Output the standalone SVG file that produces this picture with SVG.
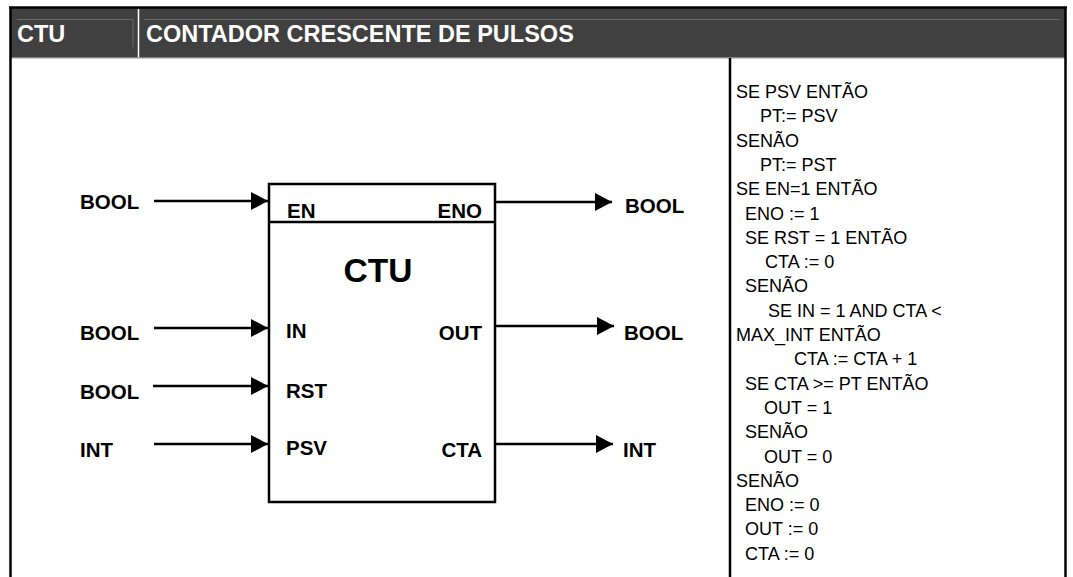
<svg xmlns="http://www.w3.org/2000/svg" width="1073" height="577" viewBox="0 0 1073 577">
<style>
.hd{font-family:"Liberation Sans",Arial,sans-serif;font-weight:bold;font-size:23.5px;fill:#ffffff}
.lb{font-family:"Liberation Sans",Arial,sans-serif;font-weight:bold;font-size:20.5px;fill:#000}
.big{font-family:"Liberation Sans",Arial,sans-serif;font-weight:bold;font-size:33.5px;fill:#000}
.code{font-family:"Liberation Sans",Arial,sans-serif;font-size:18px;fill:#000}
.wire{stroke:#000;stroke-width:2.5;fill:none;marker-end:url(#ah)}
.bdr{stroke:#000;stroke-width:2.5;fill:none}
</style>
<defs>
<marker id="ah" markerUnits="userSpaceOnUse" markerWidth="18" markerHeight="18" refX="17" refY="9" orient="auto">
<path d="M0,0 L17,9 L0,18 z" fill="#000"/>
</marker>
</defs>
<rect width="1073" height="577" fill="#fff"/>
<g id="header">
<rect x="10" y="8" width="1055" height="50" fill="#404040"/>
<line x1="17" y1="19.5" x2="133" y2="19.5" stroke="#6a6a6a" stroke-width="1"/>
<line x1="133" y1="19.5" x2="133" y2="47" stroke="#6a6a6a" stroke-width="1"/>
<line x1="144" y1="19.5" x2="1060" y2="19.5" stroke="#6a6a6a" stroke-width="1"/>
<line x1="138.5" y1="9" x2="138.5" y2="58" stroke="#fff" stroke-width="1.5"/>
<line x1="10" y1="57.8" x2="1065" y2="57.8" stroke="#9a9a9a" stroke-width="1.2"/>
<text class="hd" x="17" y="42">CTU</text>
<text class="hd" x="146" y="42">CONTADOR CRESCENTE DE PULSOS</text>
</g>
<g id="frame">
<line x1="9" y1="7.5" x2="1067" y2="7.5" class="bdr"/>
<line x1="10.5" y1="7" x2="10.5" y2="577" class="bdr"/>
<line x1="1065.5" y1="7" x2="1065.5" y2="577" class="bdr" stroke-width="3"/>
<line x1="730" y1="58" x2="730" y2="577" class="bdr"/>
</g>
<g id="ctu-block">
<rect x="269" y="184" width="226" height="318" class="bdr"/>
<line x1="269" y1="222" x2="495" y2="222" class="bdr"/>
<text class="big" x="378" y="282" text-anchor="middle">CTU</text>
<text class="lb" x="287" y="218">EN</text>
<text class="lb" x="482" y="218" text-anchor="end">ENO</text>
<text class="lb" x="286" y="338">IN</text>
<text class="lb" x="482" y="340" text-anchor="end">OUT</text>
<text class="lb" x="286" y="398">RST</text>
<text class="lb" x="286" y="455">PSV</text>
<text class="lb" x="482" y="457" text-anchor="end">CTA</text>
</g>
<g id="input-labels">
<text class="lb" x="80" y="209">BOOL</text>
<text class="lb" x="80" y="340">BOOL</text>
<text class="lb" x="80" y="399">BOOL</text>
<text class="lb" x="80" y="457">INT</text>
</g>
<g id="output-labels">
<text class="lb" x="625" y="213">BOOL</text>
<text class="lb" x="624" y="340">BOOL</text>
<text class="lb" x="623" y="457">INT</text>
</g>
<g id="connectors">
<line x1="154" y1="201" x2="268" y2="201" class="wire"/>
<line x1="154" y1="328" x2="268" y2="328" class="wire"/>
<line x1="153" y1="386" x2="268" y2="386" class="wire"/>
<line x1="154" y1="444" x2="268" y2="444" class="wire"/>
<line x1="496" y1="202" x2="612" y2="202" class="wire"/>
<line x1="496" y1="326" x2="614" y2="326" class="wire"/>
<line x1="496" y1="444" x2="613" y2="444" class="wire"/>
</g>
<g id="code">
<text class="code" x="736" y="98">SE PSV ENTÃO</text>
<text class="code" x="760" y="122.3">PT:= PSV</text>
<text class="code" x="736" y="146.6">SENÃO</text>
<text class="code" x="760" y="170.9">PT:= PST</text>
<text class="code" x="736" y="195.2">SE EN=1 ENTÃO</text>
<text class="code" x="745" y="219.5">ENO := 1</text>
<text class="code" x="745" y="243.8">SE RST = 1 ENTÃO</text>
<text class="code" x="765" y="268.1">CTA := 0</text>
<text class="code" x="745" y="292.4">SENÃO</text>
<text class="code" x="768" y="316.7">SE IN = 1 AND CTA &lt;</text>
<text class="code" x="736" y="341">MAX_INT ENTÃO</text>
<text class="code" x="794" y="365.3">CTA := CTA + 1</text>
<text class="code" x="745" y="389.6">SE CTA &gt;= PT ENTÃO</text>
<text class="code" x="764" y="413.9">OUT = 1</text>
<text class="code" x="745" y="438.2">SENÃO</text>
<text class="code" x="764" y="462.5">OUT = 0</text>
<text class="code" x="736" y="486.8">SENÃO</text>
<text class="code" x="745" y="511.1">ENO := 0</text>
<text class="code" x="745" y="535.4">OUT := 0</text>
<text class="code" x="745" y="559.7">CTA := 0</text>
</g>
</svg>
